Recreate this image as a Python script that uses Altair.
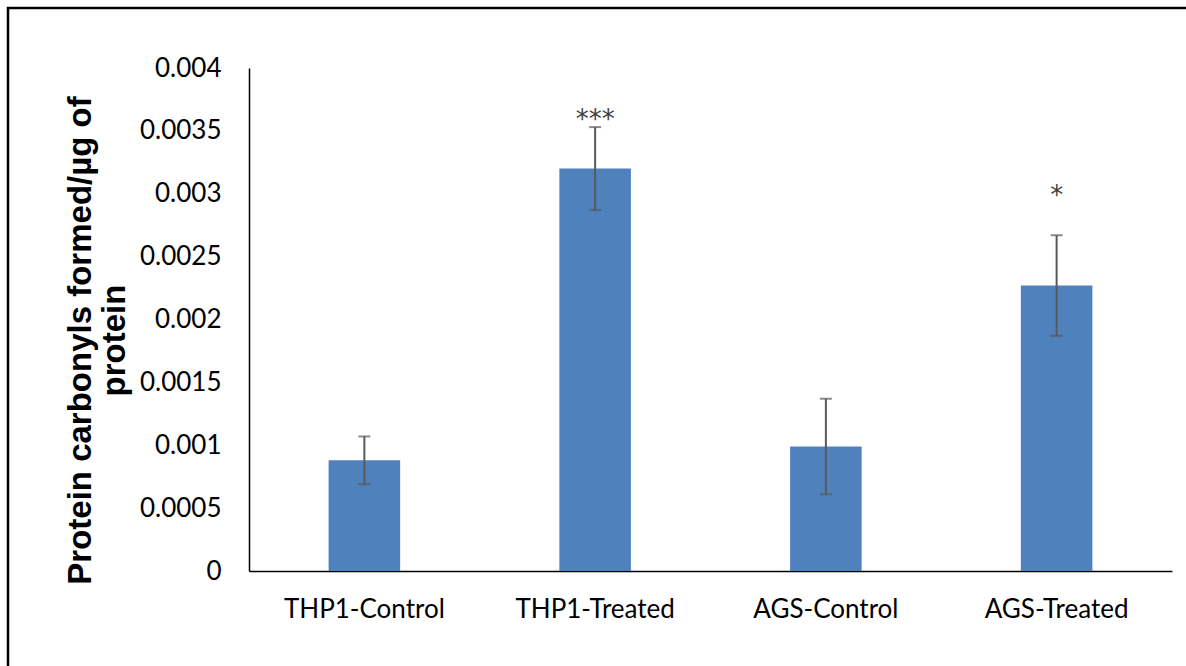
import altair as alt
import pandas as pd

categories = ["THP1-Control", "THP1-Treated", "AGS-Control", "AGS-Treated"]
values = [0.00088, 0.0032, 0.00099, 0.00227]
errors = [0.00019, 0.00033, 0.00038, 0.00040]
stars = ["", "***", "", "*"]
star_y = [None, 0.00352, None, 0.00292]
y_ticks = [0, 0.0005, 0.001, 0.0015, 0.002, 0.0025, 0.003, 0.0035, 0.004]

df = pd.DataFrame({
    "cat": categories,
    "val": values,
    "lo": [v - e for v, e in zip(values, errors)],
    "hi": [v + e for v, e in zip(values, errors)],
    "star": stars,
    "sy": star_y,
})

W, H = 923, 503
PL, PT, PR, PB = 249, 68, 14, 95

xenc = alt.X("cat:N", sort=categories,
             scale=alt.Scale(paddingInner=0.69, paddingOuter=0.345),
             axis=alt.Axis(title=None, labelAngle=0, labelFont="Lato", labelFontSize=26,
                           labelColor="#000000", labelPadding=25, ticks=False,
                           domainColor="#000000", domainWidth=1.5))

base = alt.Chart(df)

bars = base.mark_bar(color="#4F81BD").encode(
    x=xenc,
    y=alt.Y("val:Q", scale=alt.Scale(domain=[0, 0.004], nice=False),
            axis=alt.Axis(values=y_ticks, format="~g", grid=False, ticks=False,
                          labelFont="Lato", labelFontSize=26, labelColor="#000000",
                          labelPadding=28, domainColor="#000000", domainWidth=1.5,
                          title=["Protein carbonyls formed/µg of", "protein"],
                          titleFont="Liberation Sans", titleFontSize=33,
                          titleFontWeight="bold", titleColor="#000000",
                          titlePadding=8, titleLineHeight=34, titleY=272)),
)

err = base.mark_rule(color="#595959", strokeWidth=2).encode(
    x=alt.X("cat:N", sort=categories), y="lo:Q", y2="hi:Q")
cap_lo = base.mark_tick(color="#595959", thickness=2, size=12, orient="horizontal").encode(
    x=alt.X("cat:N", sort=categories), y="lo:Q")
cap_hi = base.mark_tick(color="#595959", thickness=2, size=12, orient="horizontal").encode(
    x=alt.X("cat:N", sort=categories), y="hi:Q")

txt = base.transform_filter("datum.star != ''").mark_text(
    font="DejaVu Sans", fontSize=26, color="#404040", baseline="alphabetic", align="center"
).encode(x=alt.X("cat:N", sort=categories), y="sy:Q", text="star:N")

frame = alt.Chart(pd.DataFrame({"a": [0]})).mark_rect(
    fill=None, stroke="#000000", strokeWidth=2.5
).encode(
    x=alt.value(8 - PL), x2=alt.value(1186 + 20 - PL),
    y=alt.value(8 - PT), y2=alt.value(666 + 20 - PT),
)

chart = alt.layer(frame, bars, err, cap_lo, cap_hi, txt).properties(
    width=W, height=H,
    background="white",
    autosize=alt.AutoSizeParams(type="none"),
    padding={"left": PL, "top": PT, "right": PR, "bottom": PB},
).configure_view(stroke=None)

chart.save("out.html", embed_options={"renderer": "svg", "actions": False})
